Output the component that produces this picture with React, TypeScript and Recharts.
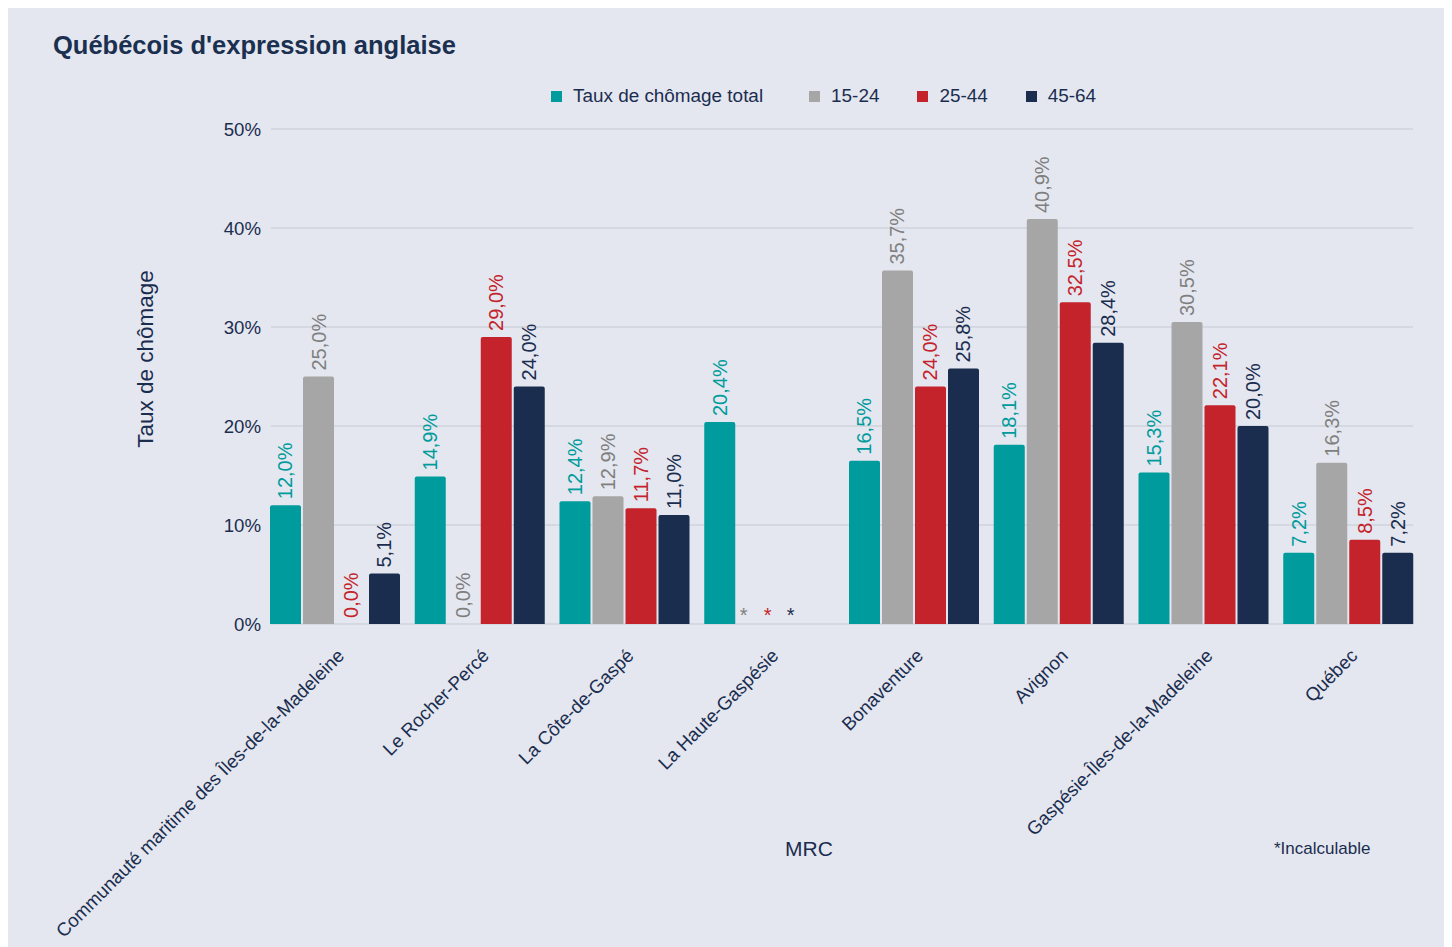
import { BarChart, Bar, XAxis, YAxis, CartesianGrid, LabelList } from "recharts";

const categories = [
  "Communauté maritime des Îles-de-la-Madeleine",
  "Le Rocher-Percé",
  "La Côte-de-Gaspé",
  "La Haute-Gaspésie",
  "Bonaventure",
  "Avignon",
  "Gaspésie-Îles-de-la-Madeleine",
  "Québec",
];
// null = incalculable (shown as *)
const totalRate = [12.0, 14.9, 12.4, 20.4, 16.5, 18.1, 15.3, 7.2];
const age15to24 = [25.0, 0.0, 12.9, null, 35.7, 40.9, 30.5, 16.3];
const age25to44 = [0.0, 29.0, 11.7, null, 24.0, 32.5, 22.1, 8.5];
const age45to64 = [5.1, 24.0, 11.0, null, 25.8, 28.4, 20.0, 7.2];
const yTicks = [0, 10, 20, 30, 40, 50];

const NAVY = "#1b2d4f";

const series = [
  { key: "total", name: "Taux de chômage total", values: totalRate, fill: "#009b9c", text: "#009b9c", starShift: 0 },
  { key: "a15", name: "15-24", values: age15to24, fill: "#a6a6a6", text: "#7f7f7f", starShift: -9 },
  { key: "a25", name: "25-44", values: age25to44, fill: "#c4232b", text: "#c4232b", starShift: -18 },
  { key: "a45", name: "45-64", values: age45to64, fill: NAVY, text: NAVY, starShift: -28 },
];

const data = categories.map((name, i) => ({
  name,
  total: totalRate[i],
  a15: age15to24[i],
  a25: age25to44[i],
  a45: age45to64[i],
}));

const fmt = (v: number) => v.toFixed(1).replace(".", ",") + "%";

function makeLabel(color: string, starShift: number, values: (number | null)[]) {
  return (props: any) => {
    const vb = props.viewBox ?? {};
    const x = Number(vb.x ?? props.x);
    const y = Number(vb.y ?? props.y);
    const width = Number(vb.width ?? props.width);
    const h = Number(vb.height ?? props.height ?? 0);
    const base = y + h;
    const raw = values[props.index];
    const cx = x + width / 2;
    if (raw == null) {
      return (
        <text x={cx + starShift} y={base - 2.5} textAnchor="middle" fill={color} fontSize={20}>
          *
        </text>
      );
    }
    const ty = base - h - 6;
    return (
      <text
        x={cx}
        y={ty}
        dy="0.35em"
        transform={`rotate(-90 ${cx} ${ty})`}
        textAnchor="start"
        fill={color}
        fontSize={20}
      >
        {fmt(raw)}
      </text>
    );
  };
}

const CategoryTick = (props: any) => {
  const { x, y, payload } = props;
  const tx = x + 10;
  const ty = y + 33;
  return (
    <text x={tx} y={ty} transform={`rotate(-45 ${tx} ${ty})`} textAnchor="end" fill={NAVY} fontSize={18.67}>
      {payload.value}
    </text>
  );
};

export default function App() {
  return (
    <div
      style={{
        position: "relative",
        width: 1444,
        height: 939,
        background: "#e4e7ef",
        fontFamily: "'Liberation Sans', Arial, sans-serif",
        color: NAVY,
      }}
    >
      <div style={{ position: "absolute", left: 45, top: 25, fontSize: 25.5, lineHeight: "25px", fontWeight: 700, color: "#1b3050" }}>
        Québécois d'expression anglaise
      </div>

      <div style={{ position: "absolute", left: 543, top: 78, height: 20, display: "flex", alignItems: "center", fontSize: 18.9 }}>
        {series.map((s, i) => (
          <div key={s.key} style={{ display: "flex", alignItems: "center", marginRight: i === 0 ? 46 : 38 }}>
            <span style={{ width: 11, height: 11, background: s.fill, marginRight: 11 }} />
            <span>{s.name}</span>
          </div>
        ))}
      </div>

      <div
        style={{
          position: "absolute",
          left: 138,
          top: 351,
          transform: "translate(-50%, -50%) rotate(-90deg)",
          whiteSpace: "nowrap",
          fontSize: 22.5,
        }}
      >
        Taux de chômage
      </div>

      <div style={{ position: "absolute", left: 801, top: 841, transform: "translate(-50%, -50%)", fontSize: 21 }}>MRC</div>
      <div style={{ position: "absolute", left: 1266, top: 841, transform: "translateY(-50%)", fontSize: 17 }}>*Incalculable</div>

      <div style={{ position: "absolute", left: 0, top: 0 }}>
        <BarChart
          width={1444}
          height={939}
          data={data}
          margin={{ top: 121, right: 39, bottom: 293, left: 0 }}
          barGap={2}
        >
          <CartesianGrid vertical={false} stroke="#cfd3dc" strokeWidth={1.5} />
          <XAxis
            dataKey="name"
            interval={0}
            tickLine={false}
            axisLine={false}
            tickSize={0}
            tickMargin={0}
            height={30}
            padding={{ left: -8, right: -8 }}
            tick={CategoryTick}
          />
          <YAxis
            width={263}
            domain={[0, 50]}
            ticks={yTicks}
            tickFormatter={(v) => `${v}%`}
            tickLine={false}
            axisLine={false}
            tickMargin={4}
            tick={{ fill: NAVY, fontSize: 18.67 }}
          />
          {series.map((s) => (
            <Bar
              key={s.key}
              dataKey={(row: any) => row[s.key] ?? 0}
              name={s.name}
              fill={s.fill}
              barSize={31}
              radius={[2, 2, 0, 0]}
              minPointSize={(v: any) => (Number(v) === 0 ? 0.01 : 0)}
              isAnimationActive={false}
            >
              <LabelList content={makeLabel(s.text, s.starShift, s.values)} />
            </Bar>
          ))}
        </BarChart>
      </div>
    </div>
  );
}
